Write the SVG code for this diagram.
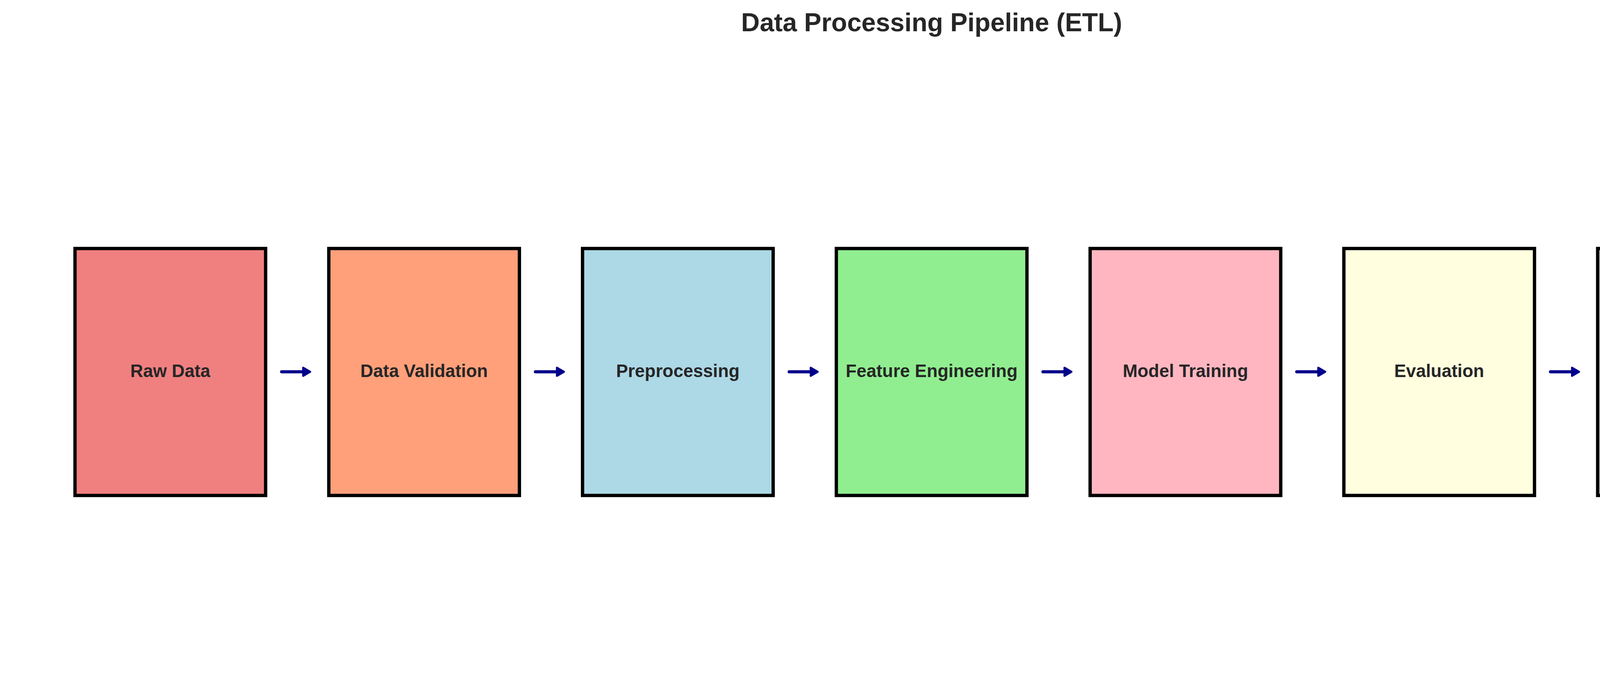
<svg xmlns="http://www.w3.org/2000/svg" width="4770" height="1771" viewBox="0 0 4770 1771">
<style>
.box{stroke:#000;stroke-width:8.5}
.lbl{font-family:"Liberation Sans",Arial,sans-serif;font-weight:bold;font-size:45.5px;fill:#262626;text-anchor:middle}
.title{font-family:"Liberation Sans",Arial,sans-serif;font-weight:bold;font-size:66px;fill:#262626;text-anchor:middle}
.conn line{stroke:#00008B;stroke-width:8;stroke-linecap:round}
.conn polygon{fill:#00008B;stroke:#00008B;stroke-width:5;stroke-linejoin:round}
</style>
<rect width="4770" height="1771" fill="#fff"/>
<text class="title" x="2385" y="80">Data Processing Pipeline (ETL)</text>
<g id="node-raw-data"><rect class="box" x="192" y="636" width="488" height="632" fill="#F08080"/><text class="lbl" x="436" y="965">Raw Data</text></g>
<g id="node-data-validation"><rect class="box" x="841.7" y="636" width="488" height="632" fill="#FFA07A"/><text class="lbl" x="1085.7" y="965">Data Validation</text></g>
<g id="node-preprocessing"><rect class="box" x="1491.3" y="636" width="488" height="632" fill="#ADD8E6"/><text class="lbl" x="1735.3" y="965">Preprocessing</text></g>
<g id="node-feature-engineering"><rect class="box" x="2141" y="636" width="488" height="632" fill="#90EE90"/><text class="lbl" x="2385" y="965">Feature Engineering</text></g>
<g id="node-model-training"><rect class="box" x="2790.7" y="636" width="488" height="632" fill="#FFB6C1"/><text class="lbl" x="3034.7" y="965">Model Training</text></g>
<g id="node-evaluation"><rect class="box" x="3440.3" y="636" width="488" height="632" fill="#FFFFE0"/><text class="lbl" x="3684.3" y="965">Evaluation</text></g>
<g id="node-deployment"><rect class="box" x="4090" y="636" width="488" height="632" fill="#D3D3D3"/><text class="lbl" x="4334" y="965">Deployment</text></g>
<g id="connectors" class="conn">
<g><line x1="721" y1="951.5" x2="780" y2="951.5"/><polygon points="776,941 794,951.5 776,962"/></g>
<g transform="translate(649.67,0)"><line x1="721" y1="951.5" x2="780" y2="951.5"/><polygon points="776,941 794,951.5 776,962"/></g>
<g transform="translate(1299.33,0)"><line x1="721" y1="951.5" x2="780" y2="951.5"/><polygon points="776,941 794,951.5 776,962"/></g>
<g transform="translate(1949,0)"><line x1="721" y1="951.5" x2="780" y2="951.5"/><polygon points="776,941 794,951.5 776,962"/></g>
<g transform="translate(2598.67,0)"><line x1="721" y1="951.5" x2="780" y2="951.5"/><polygon points="776,941 794,951.5 776,962"/></g>
<g transform="translate(3248.33,0)"><line x1="721" y1="951.5" x2="780" y2="951.5"/><polygon points="776,941 794,951.5 776,962"/></g>
</g>
</svg>
